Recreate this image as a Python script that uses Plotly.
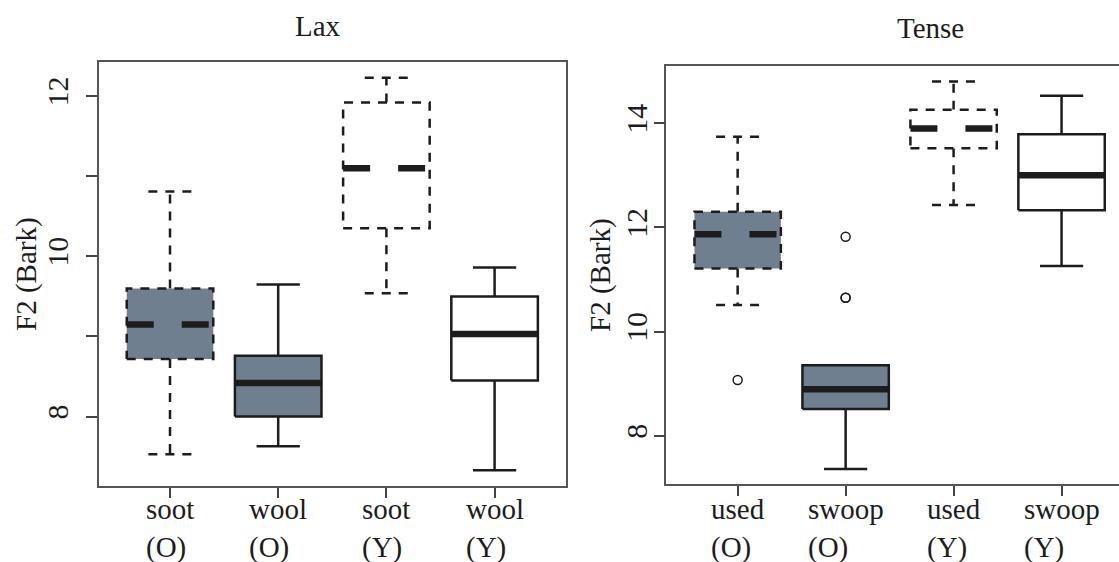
import plotly.graph_objects as go

W, H = 1119, 562

# ---------------- data ----------------
lax_labels = ["soot<br>(O)", "wool<br>(O)", "soot<br>(Y)", "wool<br>(Y)"]
lax_lower = [7.53, 7.63, 9.54, 7.33]
lax_q1 = [8.72, 8.00, 10.35, 8.45]
lax_median = [9.15, 8.42, 11.10, 9.03]
lax_q3 = [9.60, 8.76, 11.92, 9.50]
lax_upper = [10.81, 9.65, 12.23, 9.86]
lax_dashed = [True, False, True, False]
lax_filled = [True, True, False, False]
lax_outliers = [[], [], [], []]

tense_labels = ["used<br>(O)", "swoop<br>(O)", "used<br>(Y)", "swoop<br>(Y)"]
tense_lower = [10.51, 7.36, 12.43, 11.26]
tense_q1 = [11.21, 8.51, 13.52, 12.33]
tense_median = [11.87, 8.89, 13.90, 13.00]
tense_q3 = [12.30, 9.35, 14.26, 13.79]
tense_upper = [13.74, 9.35, 14.80, 14.53]
tense_dashed = [True, False, True, False]
tense_filled = [True, True, False, False]
tense_outliers = [[9.07], [11.82, 10.65, 10.65], [], []]

FILL = "#6f7f8f"
INK = "#1c1c1c"
FONT = "Liberation Serif, Times New Roman, serif"
BOXW = 0.4   # half box width (boxwex 0.8)
CAPW = 0.2   # half staple width

fig = go.Figure()


def add_panel(xa, ya, lower, q1, med, q3, upper, dashed, filled, outliers):
    for i in range(len(med)):
        x = i + 1
        dash = "9px,8px" if dashed[i] else "solid"
        # whiskers + staples
        fig.add_trace(go.Scatter(
            x=[x, x, None, x - CAPW, x + CAPW, None, x, x, None, x - CAPW, x + CAPW],
            y=[q3[i], upper[i], None, upper[i], upper[i], None, q1[i], lower[i], None, lower[i], lower[i]],
            mode="lines", line=dict(color=INK, width=2.5, dash=dash),
            xaxis=xa, yaxis=ya, showlegend=False, hoverinfo="skip"))
        # box
        fig.add_trace(go.Scatter(
            x=[x - BOXW, x + BOXW, x + BOXW, x - BOXW, x - BOXW],
            y=[q1[i], q1[i], q3[i], q3[i], q1[i]],
            mode="lines", fill="toself",
            fillcolor=FILL if filled[i] else "white",
            line=dict(color=INK, width=2.5, dash=dash),
            xaxis=xa, yaxis=ya, showlegend=False, hoverinfo="skip"))
        # median
        fig.add_trace(go.Scatter(
            x=[x - BOXW, x + BOXW], y=[med[i], med[i]],
            mode="lines",
            line=dict(color=INK, width=6.5, dash="27px,28px" if dashed[i] else "solid"),
            xaxis=xa, yaxis=ya, showlegend=False, hoverinfo="skip"))
        # outliers
        if outliers[i]:
            fig.add_trace(go.Scatter(
                x=[x] * len(outliers[i]), y=outliers[i], mode="markers",
                marker=dict(symbol="circle-open", size=9, color=INK, line=dict(width=1.5)),
                xaxis=xa, yaxis=ya, showlegend=False, hoverinfo="skip"))


add_panel("x", "y", lax_lower, lax_q1, lax_median, lax_q3, lax_upper,
          lax_dashed, lax_filled, lax_outliers)
add_panel("x2", "y2", tense_lower, tense_q1, tense_median, tense_q3, tense_upper,
          tense_dashed, tense_filled, tense_outliers)

def px_x(p):
    return p / W

def px_y(p):
    return 1 - p / H

tickfont = dict(family=FONT, size=30, color=INK)
axis_common = dict(showgrid=False, zeroline=False, linecolor="#555555", linewidth=1.8,
                   ticks="outside", tickcolor="#444444", tickwidth=1.5, automargin=False)

fig.update_layout(
    width=W, height=H,
    margin=dict(l=0, r=0, t=0, b=0, pad=0, autoexpand=False),
    paper_bgcolor="white", plot_bgcolor="white",
    xaxis=dict(domain=[px_x(98.6), px_x(566)], range=[0.34, 4.66],
               tickvals=[1, 2, 3, 4], ticktext=["", "", "", ""], ticklen=10,
               showline=True, mirror=True, **axis_common),
    yaxis=dict(domain=[px_y(486), px_y(62)], range=[7.134, 12.425],
               tickvals=[8, 9, 10, 11, 12], ticktext=["8", "", "10", "", "12"],
               tickangle=-90, ticklen=11, tickfont=tickfont, ticklabelstandoff=6,
               showline=True, mirror=True, **axis_common),
    xaxis2=dict(domain=[px_x(666.4), 1.0], range=[0.34, 4.532], anchor="y2",
                tickvals=[1, 2, 3, 4], ticktext=["", "", "", ""], ticklen=10,
                showline=True, mirror=True, **axis_common),
    yaxis2=dict(domain=[px_y(484), px_y(66)], range=[7.071, 15.10], anchor="x2",
                tickvals=[8, 10, 12, 14], ticktext=["8", "10", "12", "14"],
                tickangle=-90, ticklen=11, tickfont=tickfont, ticklabelstandoff=-5,
                showline=True, mirror=False, **axis_common),
)

lab_font = dict(family=FONT, size=29, color=INK)
ann = []
for i, t in enumerate(lax_labels):
    ann.append(dict(x=i + 1, xref="x", y=px_y(491), yref="paper", text=t, showarrow=False,
                    xanchor="center", yanchor="top", align="left", font=lab_font))
for i, t in enumerate(tense_labels):
    ann.append(dict(x=i + 1, xref="x2", y=px_y(491), yref="paper", text=t, showarrow=False,
                    xanchor="center", yanchor="top", align="left", font=lab_font))
ann.append(dict(x=px_x(317.5), y=px_y(26), xref="paper", yref="paper", text="Lax",
                showarrow=False, xanchor="center", yanchor="middle", font=lab_font))
ann.append(dict(x=px_x(930), y=px_y(28), xref="paper", yref="paper", text="Tense",
                showarrow=False, xanchor="center", yanchor="middle", font=lab_font))
ann.append(dict(x=px_x(26), y=px_y(274), xref="paper", yref="paper", text="F2 (Bark)",
                textangle=-90, showarrow=False, xanchor="center", yanchor="middle", font=lab_font))
ann.append(dict(x=px_x(601), y=px_y(275), xref="paper", yref="paper", text="F2 (Bark)",
                textangle=-90, showarrow=False, xanchor="center", yanchor="middle", font=lab_font))
fig.update_layout(annotations=ann)

fig.write_html("out.html", config={"displayModeBar": False},
               post_script="document.body.style.margin='0px';document.body.style.overflow='hidden';")
